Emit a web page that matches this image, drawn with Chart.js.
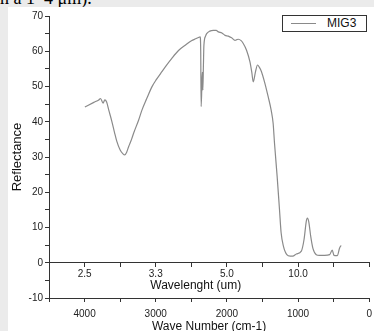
<!DOCTYPE html>
<html>
<head>
<meta charset="utf-8">
<script src="https://cdn.jsdelivr.net/npm/chart.js@4.4.1/dist/chart.umd.min.js"></script>
<style>
  html, body { margin: 0; padding: 0; }
  body {
    width: 374px; height: 331px; overflow: hidden; position: relative;
    background: #ebebeb; font-family: "Liberation Sans", Arial, sans-serif;
  }
  /* bottom edge of the document line above the figure */
  #pageText {
    position: absolute; left: 0; top: -11px; white-space: nowrap;
    font: 18px/18px "Liberation Serif", "Times New Roman", serif; color: #000;
  }
  #wrap { position: absolute; left: 8px; top: 7px; width: 370px; height: 324px; background: #fff; }
  #legend {
    position: absolute; left: 282px; top: 15px; width: 85px; height: 17px; box-sizing: border-box;
    border: 1px solid #333; background: #fff;
  }
  #legend .swatch { position: absolute; left: 8px; top: 7px; width: 25px; height: 1px; }
  #legend .name { position: absolute; left: 44px; top: 0; font-size: 12px; line-height: 15px; color: #111; }
</style>
</head>
<body>
<div id="pageText">n a 1–4 μm).</div>
<div id="wrap"><canvas id="irChart" width="370" height="324"></canvas></div>
<div id="legend"><span class="swatch"></span><span class="name"></span></div>
<script>
// spectrum (wave number in cm-1, reflectance)
const seriesName = "MIG3";
const waveNumbers = [
  3996, 3870, 3800, 3776, 3740, 3716, 3690, 3660, 3618, 3580,
  3548, 3500, 3460, 3436, 3410, 3380, 3340, 3310, 3240, 3194,
  3128, 3054, 2990, 2914, 2850, 2774, 2680, 2586, 2498, 2430,
  2400, 2376, 2368, 2362, 2352, 2345, 2338, 2330, 2323, 2300,
  2284, 2240, 2190, 2150, 2120, 2070, 2026, 1980, 1934, 1886,
  1860, 1840, 1800, 1770, 1724, 1676, 1650, 1630, 1598, 1570,
  1545, 1514, 1466, 1420, 1378, 1350, 1331, 1294, 1261, 1238,
  1206, 1158, 1110, 1074, 1024, 954, 916, 884, 870, 850,
  822, 790, 744, 700, 626, 556, 520, 496, 450, 416, 394
];
const reflectance = [
  44.2, 45.5, 46.2, 46.6, 45.3, 46.2, 45.6, 43.3, 40.2, 37.0,
  34.5, 32.0, 30.9, 30.6, 31.3, 33.0, 35.0, 36.8, 40.5, 43.3,
  46.5, 49.9, 52.0, 54.2, 56.0, 58.0, 60.2, 61.7, 63.0, 63.6,
  63.9, 64.1, 60.0, 44.3, 50.0, 54.0, 49.0, 56.0, 61.7, 64.3,
  65.0, 65.7, 65.9, 65.9, 65.5, 65.2, 64.5, 64.3, 63.8, 63.1,
  63.3, 63.4, 63.0, 62.2, 60.3, 57.0, 54.0, 51.3, 54.2, 56.1,
  55.5, 54.2, 50.9, 47.1, 43.3, 39.5, 33.9, 24.5, 15.1, 8.5,
  4.7, 2.3, 1.9, 1.9, 2.5, 3.3, 6.6, 11.8, 12.7, 11.7,
  7.5, 4.0, 2.3, 2.1, 2.1, 2.3, 3.6, 2.1, 2.0, 4.2, 4.9
];

// secondary (wavelength) axis drawn along y = 0
const wavelengthAt = [4000, 3000, 2000, 1000];
const wavelengthLabels = ["2.5", "3.3", "5.0", "10.0"];

const lineColor = "#8a8a8a";
const axisColor = "#333";
const tickFont = { family: "Liberation Sans, Arial", size: 10 };
const titleFont = { family: "Liberation Sans, Arial", size: 12 };

// html legend box
document.querySelector("#legend .swatch").style.background = lineColor;
document.querySelector("#legend .name").textContent = seriesName;

const points = waveNumbers.map((x, i) => ({ x, y: reflectance[i] }));

const axisGrid = {
  drawOnChartArea: false,
  drawTicks: true,
  tickLength: 4,
  tickColor: axisColor,
};

new Chart(document.getElementById("irChart"), {
  type: "line",
  data: {
    datasets: [
      {
        label: seriesName,
        data: points,
        borderColor: lineColor,
        borderWidth: 1.2,
        pointRadius: 0,
        fill: false,
        cubicInterpolationMode: "monotone",
      },
    ],
  },
  options: {
    responsive: false,
    animation: false,
    layout: { padding: { top: 9, right: 0, left: 0, bottom: 0 } },
    plugins: { legend: { display: false }, tooltip: { enabled: false } },
    scales: {
      x: {
        type: "linear",
        position: "bottom",
        reverse: true,
        min: 0,
        max: 4500,
        afterFit: (s) => { s.height = 33; },
        grid: axisGrid,
        border: { display: true, color: axisColor, width: 1 },
        ticks: {
          stepSize: 500,
          autoSkip: false,
          maxRotation: 0,
          padding: 6,
          color: "#222",
          font: tickFont,
          callback: (v) => (v % 1000 === 0 ? String(v) : ""),
        },
        title: {
          display: true,
          text: "Wave Number (cm-1)",
          color: "#111",
          font: titleFont,
          padding: { top: 0, bottom: -3 },
        },
      },
      x2: {
        type: "linear",
        axis: "x",
        position: { y: 0 },
        reverse: true,
        min: 0,
        max: 4500,
        grid: axisGrid,
        border: { display: true, color: axisColor, width: 1 },
        ticks: {
          stepSize: 500,
          autoSkip: false,
          maxRotation: 0,
          padding: 1,
          color: "#222",
          font: tickFont,
          callback: (v) => {
            const k = wavelengthAt.indexOf(v);
            return k >= 0 ? wavelengthLabels[k] : "";
          },
        },
        title: {
          display: true,
          text: "Wavelenght (um)        ",
          color: "#111",
          font: titleFont,
          padding: { top: -2, bottom: 0 },
        },
      },
      y: {
        min: -10,
        max: 70,
        afterFit: (s) => { s.width = 41; },
        grid: axisGrid,
        border: { display: true, color: axisColor, width: 1 },
        ticks: {
          stepSize: 5,
          autoSkip: false,
          padding: 2,
          color: "#222",
          font: tickFont,
          callback: (v) => (v % 10 === 0 ? String(v) : ""),
        },
        title: {
          display: true,
          text: "Reflectance",
          color: "#111",
          font: { family: "Liberation Sans, Arial", size: 13 },
          padding: { top: 2, bottom: 0 },
        },
      },
    },
  },
});
</script>
</body>
</html>
